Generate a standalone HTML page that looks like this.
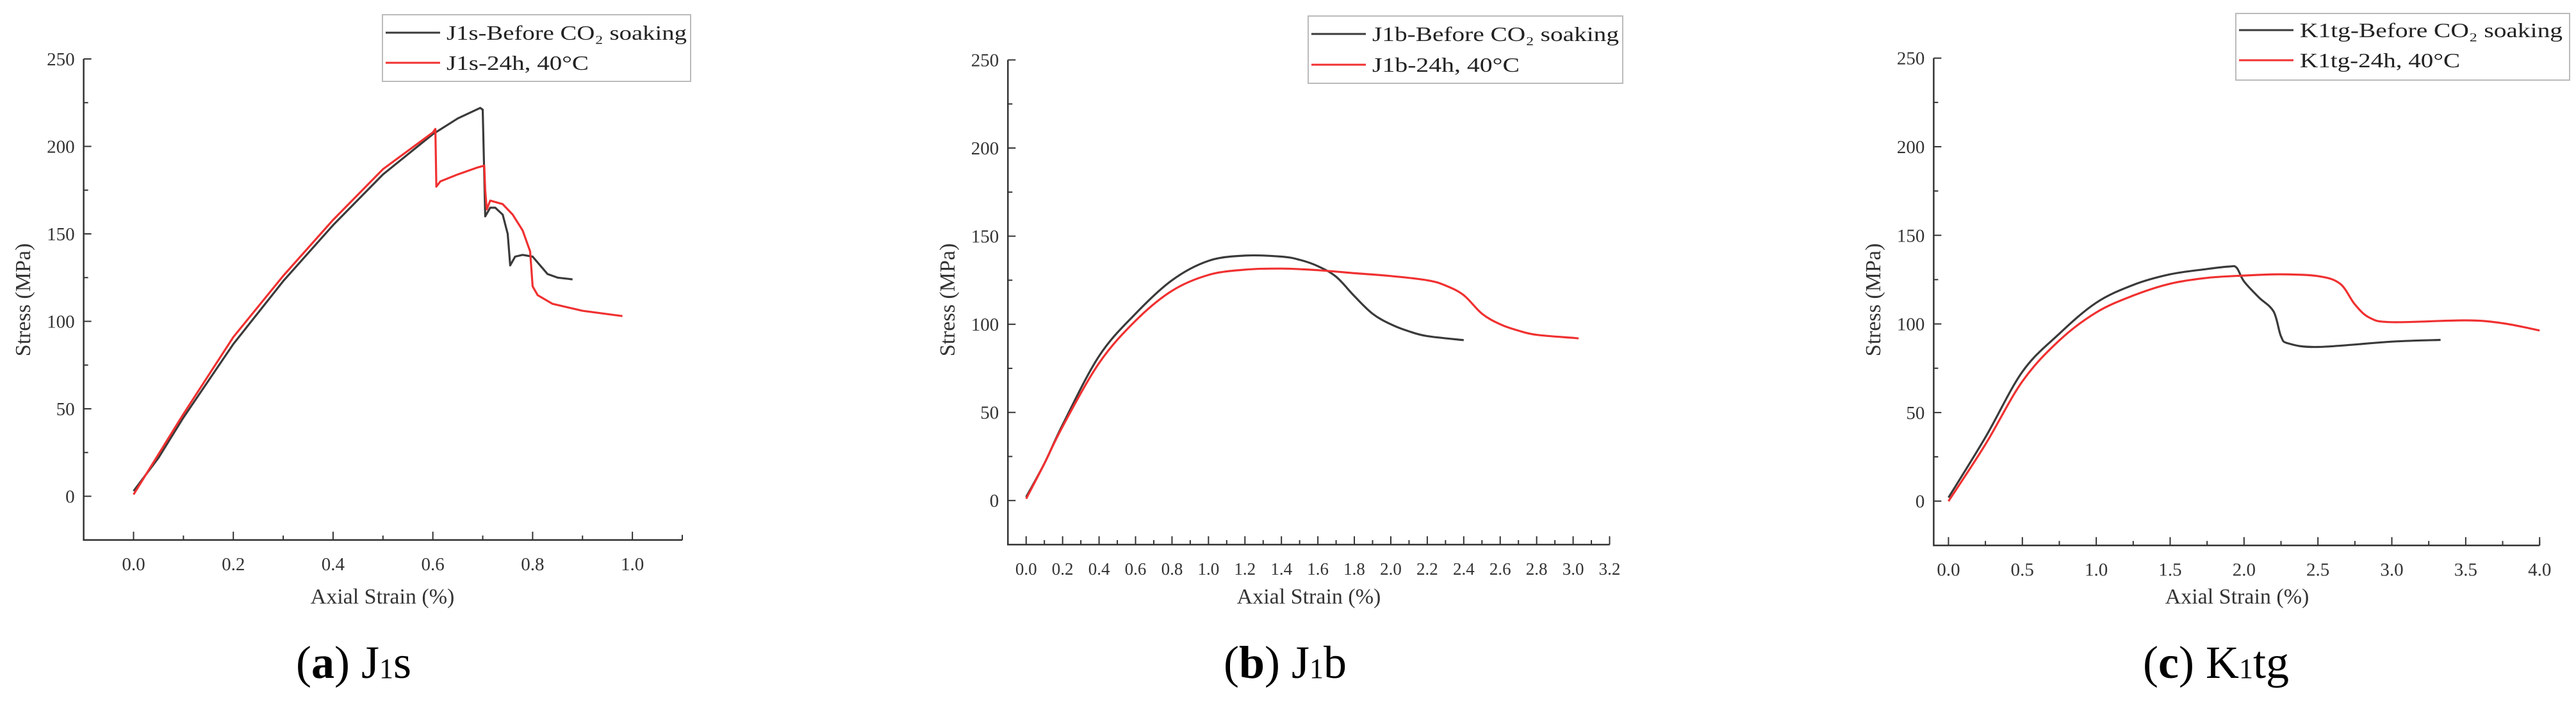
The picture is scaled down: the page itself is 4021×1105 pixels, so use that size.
<!DOCTYPE html>
<html><head><meta charset="utf-8"><style>
html,body{margin:0;padding:0;background:#fff;}
svg{display:block;font-family:"Liberation Serif",serif;}
</style></head><body>
<svg id="fig" width="4021" height="1105" viewBox="0 0 4021 1105"></svg>
<script>
// Panel (a) J1s data
const aBlackX=[0,0.05,0.1,0.2,0.3,0.4,0.5,0.6,0.65,0.695,0.7,0.705,0.715,0.725,0.74,0.75,0.755,0.765,0.78,0.8,0.815,0.83,0.85,0.88];
const aBlackY=[3,22,45,87,123,155,184,207,216,222,221,160,165,165,161,150,132,137,138,137,132,127,125,124];
const aRedX=[0,0.05,0.1,0.2,0.3,0.4,0.5,0.6,0.605,0.607,0.615,0.65,0.69,0.703,0.705,0.708,0.715,0.74,0.76,0.78,0.795,0.8,0.81,0.84,0.9,0.98];
const aRedY=[1,24,47,91,126,158,187,208,210,177,180,184,188,189,175,164,169,167,161,152,140,120,115,110,106,103];
// Panel (b) J1b data
const bBlackX=[0,0.1,0.2,0.4,0.6,0.8,1.0,1.2,1.4,1.5,1.6,1.7,1.8,1.9,2.0,2.1,2.2,2.4];
const bBlackY=[2,21,43,82,106,125,136,139,138.4,136.6,133,127,116,106,100,96,93.3,91];
const bRedX=[0,0.1,0.2,0.4,0.6,0.8,1.0,1.2,1.4,1.6,1.8,2.0,2.2,2.3,2.4,2.5,2.6,2.7,2.8,3.0,3.03];
const bRedY=[1,21,42,78,102,119,128,131,131.6,130.7,129,127.4,125,122,116.5,106,100,96.4,94,92.3,92];
// Panel (c) K1tg data
const cBlackX=[0,0.25,0.5,0.75,1.0,1.25,1.5,1.75,1.9,1.95,2.0,2.1,2.2,2.25,2.3,2.5,3.0,3.33];
const cBlackY=[2,36,73,94.5,112,122,128,131,132.4,131.7,124,115,107,93,89,87,90,91];
const cRedX=[0,0.25,0.5,0.75,1.0,1.25,1.5,1.75,2.0,2.25,2.5,2.65,2.75,2.85,3.0,3.5,3.75,4.0];
const cRedY=[0,32,67.6,90.7,106.5,116,122.7,126,127.3,128,127,122.7,111,103.5,101,102,100.4,96.3];
// Axis ticks
const yTickLabels=["0","50","100","150","200","250"];
const aXTicks=["0.0","0.2","0.4","0.6","0.8","1.0"];
const bXTicks=["0.0","0.2","0.4","0.6","0.8","1.0","1.2","1.4","1.6","1.8","2.0","2.2","2.4","2.6","2.8","3.0","3.2"];
const cXTicks=["0.0","0.5","1.0","1.5","2.0","2.5","3.0","3.5","4.0"];

const NS="http://www.w3.org/2000/svg";
const svg=document.getElementById('fig');
function mk(tag,attrs,parent){const e=document.createElementNS(NS,tag);for(const k in attrs)e.setAttribute(k,attrs[k]);(parent||svg).appendChild(e);return e;}
function smoothPath(pts){
  let d='M'+pts[0][0].toFixed(1)+','+pts[0][1].toFixed(1);
  for(let i=0;i<pts.length-1;i++){
    const p0=pts[Math.max(0,i-1)],p1=pts[i],p2=pts[i+1],p3=pts[Math.min(pts.length-1,i+2)];
    const t=1/6;
    const c1=[p1[0]+(p2[0]-p0[0])*t,p1[1]+(p2[1]-p0[1])*t];
    const c2=[p2[0]-(p3[0]-p1[0])*t,p2[1]-(p3[1]-p1[1])*t];
    d+=` C${c1[0].toFixed(1)},${c1[1].toFixed(1)} ${c2[0].toFixed(1)},${c2[1].toFixed(1)} ${p2[0].toFixed(1)},${p2[1].toFixed(1)}`;
  }
  return d;
}

function panel(cfg){
  const g=mk('g',{});
  
  
  const sx=v=>cfg.x0+(v-cfg.xmin)*(cfg.x1-cfg.x0)/(cfg.xmax-cfg.xmin);
  const sy=v=>cfg.y0+(v-(-25))*(cfg.y1-cfg.y0)/(275);
  const top=sy(250),bot=sy(-25),left=sx(cfg.xmin),right=sx(cfg.xmax);
  const ax=mk('path',{d:`M${left},${top} V${bot} H${right}`,fill:'none',stroke:'#333','stroke-width':2.5},g);
  
  
  for(let v=-25;v<=250;v+=25){
    const major=v%50===0&&v>=0;
    mk('line',{x1:left,x2:left+(major?12:7),y1:sy(v),y2:sy(v),stroke:'#333','stroke-width':2},g);
  }
  yTickLabels.forEach(t=>{
    const tx=mk('text',{x:left-14,y:sy(+t)+10,'text-anchor':'end','font-size':29,fill:'#333'},g);
    tx.textContent=t;
    
    
  });
  const step=cfg.step;
  for(let i=0;;i++){
    const v=cfg.xmin+0.1+i*step/2; if(v>cfg.xmax+1e-6)break;
    const major=Math.abs(Math.round(v/step)*step-v)<1e-6;
    mk('line',{x1:sx(v),x2:sx(v),y1:bot,y2:bot-(major?13:7),stroke:'#333','stroke-width':2},g);
  }
  mk('line',{x1:right,x2:right,y1:bot,y2:bot-8,stroke:'#333','stroke-width':2},g);
  cfg.xticks.forEach(t=>{
    const tx=mk('text',{x:sx(+t),y:bot+47,'text-anchor':'middle','font-size':cfg.xfs,fill:'#333'},g);
    tx.textContent=t;
    
    
  });
  const xt=mk('text',{x:cfg.xtx,y:942,'text-anchor':'middle','font-size':34,fill:'#333'},g);
  xt.textContent='Axial Strain (%)';
  
  
  const yt=mk('text',{x:0,y:0,'text-anchor':'middle','font-size':34,fill:'#333',transform:`translate(${cfg.ytx},468) rotate(-90)`},g);
  yt.textContent='Stress (MPa)';
  
  
  const series=[[cfg.bx,cfg.by,'#3a3a3a','series-before-soaking'],[cfg.rx,cfg.ry,'#f03030','series-24h-40c']];
  series.forEach(([xs,ys,col,nm])=>{
    const pts=xs.map((x,i)=>[sx(x),sy(ys[i])]);
    const d=cfg.smooth?smoothPath(pts):pts.map((p,i)=>(i?'L':'M')+p[0].toFixed(1)+','+p[1].toFixed(1)).join(' ');
    const p=mk('path',{d:d,fill:'none',stroke:col,'stroke-width':3.2,'stroke-linejoin':'round'},g);
    
    
  });
  const L=cfg.leg;
  const lg=mk('g',{},g);
  
  
  mk('rect',{x:L.x,y:L.y,width:L.w,height:L.h,fill:'#fff',stroke:'#bbb','stroke-width':2},lg);
  [[L.l1,'#3a3a3a',cfg.lab+'-Before CO₂ soaking',L.tw1],[L.l2,'#f03030',cfg.lab+'-24h, 40°C',L.tw2]].forEach(([ly,col,txt,tw])=>{
    mk('line',{x1:L.x+5,x2:L.x+90,y1:ly,y2:ly,stroke:col,'stroke-width':3},lg);
    const tx=mk('text',{x:L.x+100,y:ly+11,'font-size':32,fill:'#222',textLength:tw,lengthAdjust:'spacingAndGlyphs'},lg);
    tx.textContent=txt;
    
    
  });
  const cap=mk('text',{x:cfg.capx,y:1058,'text-anchor':'middle','font-size':72,fill:'#000'},g);
  cap.innerHTML='(<tspan font-weight="bold">'+cfg.capl+'</tspan>) '+cfg.cap1+'<tspan font-size="44">1</tspan>'+cfg.cap2;
  
  
}

panel({name:'panel-a-j1s',lab:'J1s',xmin:-0.1,xmax:1.1,x0:130.6,x1:1065,y0:842.8,y1:92,step:0.2,smooth:false,
  xticks:aXTicks,xfs:29,bx:aBlackX,by:aBlackY,rx:aRedX,ry:aRedY,xtx:597,ytx:47,
  leg:{x:597,y:23,w:481,h:104,l1:51,l2:98,tw1:375,tw2:222},capx:552,capl:'a',cap1:'J',cap2:'s'});
panel({name:'panel-b-j1b',lab:'J1b',xmin:-0.1,xmax:3.2,x0:1573.3,x1:2512.5,y0:850,y1:93.5,step:0.2,smooth:true,
  xticks:bXTicks,xfs:27,bx:bBlackX,by:bBlackY,rx:bRedX,ry:bRedY,xtx:2043,ytx:1490,
  leg:{x:2042,y:25,w:491,h:105,l1:53,l2:101,tw1:385,tw2:230},capx:2006,capl:'b',cap1:'J',cap2:'b'});
panel({name:'panel-c-k1tg',lab:'K1tg',xmin:-0.1,xmax:4.0,x0:3018.4,x1:3964.2,y0:851.3,y1:90.7,step:0.5,smooth:true,
  xticks:cXTicks,xfs:29,bx:cBlackX,by:cBlackY,rx:cRedX,ry:cRedY,xtx:3492,ytx:2935,
  leg:{x:3490,y:21,w:521,h:104,l1:47,l2:94,tw1:410,tw2:250},capx:3459,capl:'c',cap1:'K',cap2:'tg'});
</script>
</body></html>
